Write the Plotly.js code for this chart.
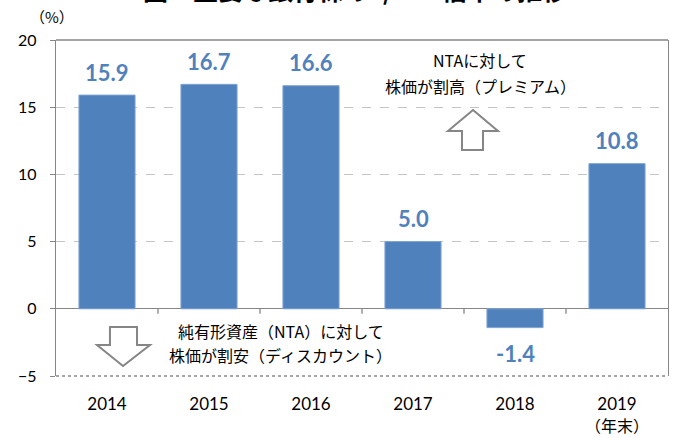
<!DOCTYPE html>
<html>
<head>
<meta charset="utf-8">
<script src="https://cdn.plot.ly/plotly-3.0.1.min.js"></script>
<style>html,body{margin:0;padding:0;background:#fff;}#chart{width:675px;height:438px;}</style>
</head>
<body>
<div id="chart"></div>
<script>
// ---- data ----
const categories = ['2014', '2015', '2016', '2017', '2018', '2019'];
const values = [15.9, 16.7, 16.6, 5.0, -1.4, 10.8];
const yTickVals = [-5, 0, 5, 10, 15, 20];
const titleText = '図　主要な銀行株のP/NTA倍率の推移';
const unitText = '（%）';
const yearEndText = '（年末）';
const premiumLines = ['NTAに対して', '株価が割高（プレミアム）'];
const discountLines = ['純有形資産（NTA）に対して', '株価が割安（ディスカウント）'];

// ---- layout helpers (pixel -> paper) ----
const W = 675, H = 438;
const M = {l: 56, r: 7, t: 40, b: 62};
const PW = W - M.l - M.r, PH = H - M.t - M.b;
const px = x => (x - M.l) / PW;
const py = y => (H - M.b - y) / PH;
const path = pts => 'M ' + pts.map(p => px(p[0]).toFixed(4) + ' ' + py(p[1]).toFixed(4)).join(' L ') + ' Z';

const FONT = "Lato, 'Noto Sans CJK JP', sans-serif";
const JP = "'Noto Sans CJK JP', Lato, sans-serif";
const BLUE = '#4F81BD';
const GRAY = '#868686';

const bar = {
  type: 'bar', x: categories, y: values,
  marker: {color: BLUE, line: {color: '#7FA3D3', width: 1}},
  hoverinfo: 'x+y', showlegend: false
};

// value labels (category index positions on the category axis)
const labelAnns = values.map((v, i) => ({
  x: i, y: v, xref: 'x', yref: 'y',
  text: v.toFixed(1), showarrow: false,
  yanchor: 'middle', yshift: v >= 0 ? 23 : -26,
  font: {family: FONT, size: 22, color: BLUE, weight: 'bold'}
}));

// small tick marks on the zero line at the category boundaries
const boundaryTicks = categories.slice(1).map((_, i) => ({
  type: 'line', xref: 'x', yref: 'y', ysizemode: 'pixel', yanchor: 0,
  x0: i + 0.5, x1: i + 0.5, y0: 0, y1: -5,
  line: {color: GRAY, width: 1.3}
}));

const textLine = (t, x, y) => ({
  xref: 'paper', yref: 'paper', x: px(x), y: py(y), text: t, showarrow: false,
  xanchor: 'center', yanchor: 'middle', font: {family: JP, size: 16, color: '#000'}
});

const layout = {
  width: W, height: H,
  margin: M,
  paper_bgcolor: '#fff', plot_bgcolor: '#fff',
  bargap: 0.45,
  font: {family: FONT, color: '#000'},
  xaxis: {
    type: 'category', range: [-0.5, categories.length - 0.5],
    showgrid: false, showline: false, zeroline: false,
    ticks: '', tickfont: {family: FONT, size: 17, color: '#000'},
    ticklabelstandoff: 16, fixedrange: true
  },
  yaxis: {
    range: [-5, 20], tickvals: yTickVals,
    showgrid: true, gridcolor: '#C4C4C4', griddash: 'dash', gridwidth: 1,
    zeroline: true, zerolinecolor: GRAY, zerolinewidth: 1.3,
    showline: true, mirror: true, linecolor: GRAY, linewidth: 1.3,
    ticks: 'outside', ticklen: 5, tickcolor: GRAY,
    tickfont: {family: FONT, size: 16, color: '#000'},
    ticklabelstandoff: 10, fixedrange: true
  },
  shapes: [
    {type: 'line', xref: 'paper', yref: 'paper', x0: 0, x1: 1, y0: 1, y1: 1, line: {color: GRAY, width: 1.3}},
    {type: 'line', xref: 'paper', yref: 'paper', x0: 0, x1: 1, y0: 0, y1: 0, line: {color: '#A6A6A6', width: 2, dash: 'dot'}},
    {type: 'path', xref: 'paper', yref: 'paper', fillcolor: '#fff', line: {color: GRAY, width: 2},
     path: path([[473, 110], [498, 131], [483, 131], [483, 150], [462, 150], [462, 131], [448, 131]])},
    {type: 'path', xref: 'paper', yref: 'paper', fillcolor: '#fff', line: {color: GRAY, width: 2},
     path: path([[110, 327], [137, 327], [137, 345], [150, 345], [123, 366], [97, 345], [110, 345]])}
  ].concat(boundaryTicks),
  annotations: labelAnns.concat([
    {xref: 'paper', yref: 'paper', x: px(355), y: py(-11), text: titleText, showarrow: false,
     xanchor: 'center', yanchor: 'middle', font: {family: JP, size: 25, color: '#000', weight: 'bold'}},
    {xref: 'paper', yref: 'paper', x: px(52), y: py(16), text: unitText, showarrow: false,
     xanchor: 'center', yanchor: 'middle', font: {family: JP, size: 15, color: '#000'}},
    {xref: 'x', yref: 'paper', x: categories.length - 1, y: py(425), text: yearEndText, showarrow: false,
     xanchor: 'center', yanchor: 'middle', font: {family: JP, size: 16, color: '#000'}},
    textLine(premiumLines[0], 480, 60),
    textLine(premiumLines[1], 480, 86),
    textLine(discountLines[0], 281, 331),
    textLine(discountLines[1], 280, 355)
  ])
};

Plotly.newPlot('chart', [bar], layout, {displayModeBar: false, staticPlot: true});
</script>
</body>
</html>
